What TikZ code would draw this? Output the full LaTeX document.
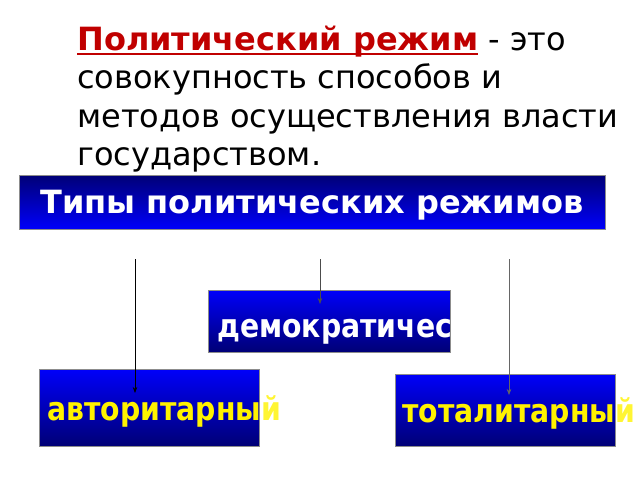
\documentclass[tikz,border=0pt]{standalone}
\usepackage{fontspec}
\setmainfont{DejaVu Sans}
\usepackage{graphicx}
\usetikzlibrary{arrows.meta,positioning}
\definecolor{termred}{RGB}{192,0,0}
\definecolor{navyblue}{RGB}{0,0,118}
\definecolor{brightblue}{RGB}{0,0,250}
\newcommand{\termline}[1]{\setbox0\hbox{#1}\rlap{\color{termred}\rule[-5pt]{\wd0}{2pt}}\box0\relax}
\newcommand{\tallword}[1]{\scalebox{1}[1.15]{#1}}

\begin{document}
\begin{tikzpicture}[->,>={Stealth[length=6pt,width=4.5pt]},x=1pt,y=-1pt,line width=0.6pt]

\tikzstyle{headbox}=[rectangle, minimum width=586pt, minimum height=54pt, inner sep=0pt,
top color=navyblue, bottom color=brightblue, draw=black!45, line width=0.8pt,
text=white, text depth=0pt, font=\bfseries\fontsize{32}{36}\selectfont]

\tikzstyle{kindbox}=[rectangle, inner sep=0pt,
top color=brightblue, bottom color=navyblue, draw=black!45, line width=0.8pt]

\tikzstyle{kindtext}=[anchor=base west, inner sep=0pt, font=\bfseries\fontsize{28.3}{32}\selectfont]

\useasboundingbox (0,0) rectangle (640,480);

%definition
\node[anchor=base west, align=left, inner sep=0pt, font=\fontsize{32}{38.5}\selectfont]
(def) at (77,165.5)
{\termline{\textbf{\color{termred}Политический режим}} - это\\совокупность способов и\\методов осуществления власти\\государством.};

%header
\node[headbox]
(types) at (312,202)
{Типы политических режимов};

%kinds
\node[kindbox, minimum width=242pt, minimum height=62pt]
(demo) at (329,321)
{};

\node[kindbox, minimum width=220pt, minimum height=77pt]
(auth) at (149,407.5)
{};

\node[kindbox, minimum width=220pt, minimum height=72pt]
(total) at (505,410)
{};

\node[kindtext, text=white]
(demotext) at (217,337)
{\tallword{демократичес}};

\node[kindtext, text=yellow]
(authtext) at (47,420)
{\tallword{авторитарны\textcolor{yellow!80!white}{й}}};

\node[kindtext, text=yellow]
(totaltext) at (402,422)
{\tallword{тоталитарны\textcolor{yellow!80!white}{й}}};

\coordinate (a0) at (135,259);
\coordinate (a1) at (135,393);
\coordinate (d0) at (320,259);
\coordinate (d1) at (320,304);
\coordinate (t0) at (509,259);
\coordinate (t1) at (509,395);

\path[->] (a0) edge[draw=black] (a1);
\path[->] (d0) edge[draw=black!70] (d1);
\path[->] (t0) edge[draw=black!60] (t1);

\end{tikzpicture}
\end{document}
